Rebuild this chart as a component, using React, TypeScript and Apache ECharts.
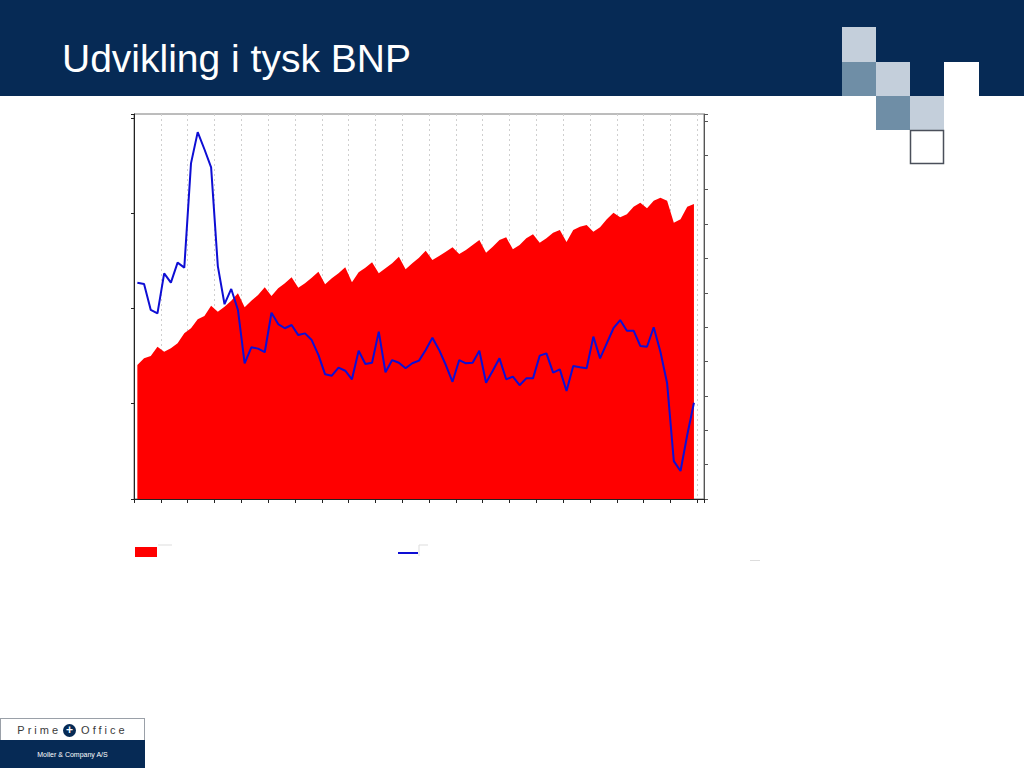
import React, { useEffect, useRef } from "react";
import * as echarts from "echarts";

// Quarterly GDP level (red area, right axis, arbitrary units)
const gdpLevel: number[] = [
  194.9, 204.7, 208.0, 221.5, 214.3, 219.2, 226.5, 241.0, 248.3, 261.4,
  266.2, 281.2, 272.4, 279.7, 288.4, 299.2, 278.8, 288.4, 296.7, 307.9,
  295.3, 306.5, 313.7, 322.5, 307.3, 313.7, 321.9, 330.6, 312.3, 321.0,
  328.3, 337.0, 315.2, 329.7, 336.4, 344.3, 328.3, 335.6, 342.8, 352.4,
  334.1, 342.8, 351.0, 361.2, 347.6, 353.5, 359.7, 366.1, 356.4, 362.2,
  369.5, 376.7, 358.3, 367.0, 376.7, 380.7, 363.2, 369.5, 379.2, 385.0,
  372.8, 379.2, 387.3, 391.3, 374.0, 391.3, 396.1, 398.5, 388.8, 395.2,
  406.8, 416.4, 409.7, 414.1, 425.2, 431.0, 422.8, 433.9, 438.2, 433.9,
  401.9, 406.8, 425.2, 429.1,
];

// Growth line (blue, left axis, arbitrary units)
const gdpGrowth: number[] = [
  11.35, 11.28, 9.92, 9.74, 11.84, 11.35, 12.4, 12.14, 17.61, 19.25,
  18.35, 17.4, 12.22, 10.22, 11.02, 9.92, 7.12, 7.96, 7.89, 7.7,
  9.77, 9.18, 8.96, 9.13, 8.6, 8.69, 8.34, 7.56, 6.54, 6.47,
  6.89, 6.73, 6.28, 7.78, 7.08, 7.15, 8.78, 6.65, 7.29, 7.15,
  6.86, 7.12, 7.26, 7.82, 8.46, 7.82, 7.03, 6.15, 7.29, 7.12,
  7.15, 7.78, 6.1, 6.73, 7.38, 6.28, 6.42, 5.97, 6.33, 6.33,
  7.52, 7.64, 6.63, 6.8, 5.67, 6.98, 6.91, 6.86, 8.52, 7.38,
  8.17, 8.96, 9.39, 8.83, 8.83, 8.03, 7.99, 9.01, 7.73, 6.07,
  1.99, 1.47, 3.36, 5.05,
];

const title = "Udvikling i tysk BNP";
const logoLeft = "Prime";
const logoRight = "Office";
const logoSub = "Moller & Company A/S";

const NAVY = "#062a55";
const LIGHT = "#c4cfdb";
const MID = "#6f8ea6";

export default function App() {
  const ref = useRef<HTMLDivElement>(null);

  useEffect(() => {
    if (!ref.current) return;
    const chart = echarts.init(ref.current, null, { renderer: "svg" });
    const levelData = gdpLevel.map((v, i) => [i + 0.5, v]);
    const growthData = gdpGrowth.map((v, i) => [i + 0.5, v]);

    chart.setOption({
      animation: false,
      backgroundColor: "#ffffff",
      grid: {
        left: 134,
        top: 114,
        width: 570,
        height: 385,
        show: true,
        borderColor: "#7a7a7a",
        borderWidth: 1,
        containLabel: false,
      },
      xAxis: {
        type: "value",
        min: 0,
        max: 85,
        interval: 4,
        axisLine: { show: true, onZero: false, lineStyle: { color: "#222", width: 1 } },
        axisTick: { show: true, length: 4, lineStyle: { color: "#222" } },
        axisLabel: { show: false },
        splitLine: { show: true, lineStyle: { color: "#cfcfcf", type: [2, 3], width: 1 } },
      },
      yAxis: [
        {
          type: "value",
          min: 0,
          max: 20.2,
          interval: 5,
          position: "left",
          axisLine: { show: true, onZero: false, lineStyle: { color: "#222", width: 1 } },
          axisTick: { show: true, length: 3, lineStyle: { color: "#222" } },
          axisLabel: { show: false },
          splitLine: { show: false },
        },
        {
          type: "value",
          min: 0,
          max: 560,
          interval: 50,
          position: "right",
          axisLine: { show: true, onZero: false, lineStyle: { color: "#555", width: 1 } },
          axisTick: { show: true, length: 4, lineStyle: { color: "#555" } },
          axisLabel: { show: false },
          splitLine: { show: false },
        },
      ],
      series: [
        {
          type: "line",
          yAxisIndex: 1,
          data: levelData,
          symbol: "none",
          lineStyle: { width: 0, color: "#ff0000" },
          areaStyle: { color: "#ff0000", opacity: 1 },
          z: 2,
        },
        {
          type: "line",
          yAxisIndex: 0,
          data: growthData,
          symbol: "none",
          lineStyle: { width: 2, color: "#0e0ed4" },
          z: 3,
        },
      ],
      graphic: [
        { type: "rect", shape: { x: 0, y: 0, width: 1024, height: 96 }, style: { fill: NAVY }, silent: true },
        {
          type: "text",
          x: 62,
          y: 58,
          style: {
            text: title,
            fill: "#ffffff",
            font: "39px 'Liberation Sans', Arial, sans-serif",
            verticalAlign: "middle",
          },
        },
        { type: "rect", shape: { x: 842, y: 27, width: 34, height: 35 }, style: { fill: LIGHT } },
        { type: "rect", shape: { x: 842, y: 62, width: 34, height: 34 }, style: { fill: MID } },
        { type: "rect", shape: { x: 876, y: 62, width: 34, height: 34 }, style: { fill: LIGHT } },
        { type: "rect", shape: { x: 944, y: 62, width: 35, height: 34 }, style: { fill: "#ffffff" } },
        { type: "rect", shape: { x: 876, y: 96, width: 34, height: 34 }, style: { fill: MID } },
        { type: "rect", shape: { x: 910, y: 96, width: 34, height: 34 }, style: { fill: LIGHT } },
        {
          type: "rect",
          shape: { x: 910.5, y: 130.5, width: 33, height: 33 },
          style: { fill: "#ffffff", stroke: "#4a4f5a", lineWidth: 1.5 },
        },
        // legend markers
        { type: "rect", shape: { x: 135, y: 547, width: 22, height: 10 }, style: { fill: "#ff0000" } },
        {
          type: "polyline",
          shape: { points: [[158, 545], [172, 545]] },
          style: { stroke: "#dddddd", lineWidth: 1, fill: "none" },
        },
        {
          type: "line",
          shape: { x1: 398, y1: 553, x2: 418, y2: 553 },
          style: { stroke: "#0e0ed4", lineWidth: 2 },
        },
        {
          type: "polyline",
          shape: { points: [[419, 556], [419, 545], [428, 545]] },
          style: { stroke: "#dddddd", lineWidth: 1, fill: "none" },
        },
        {
          type: "line",
          shape: { x1: 750, y1: 560.5, x2: 760, y2: 560.5 },
          style: { stroke: "#dddddd", lineWidth: 1 },
        },
      ],
    });
    return () => chart.dispose();
  }, []);

  return (
    <div style={{ position: "fixed", left: 0, top: 0, width: 1024, height: 768, background: "#fff", overflow: "hidden" }}>
      <div ref={ref} style={{ position: "absolute", left: 0, top: 0, width: 1024, height: 768 }} />
      <div
        style={{
          position: "absolute",
          left: 0,
          top: 718,
          width: 145,
          height: 50,
          border: "1px solid #9aa0a8",
          boxSizing: "border-box",
          background: "#fff",
          fontFamily: "'Liberation Sans', Arial, sans-serif",
        }}
      >
        <div
          style={{
            position: "absolute",
            left: 0,
            top: 0,
            width: 143,
            height: 22,
            display: "flex",
            alignItems: "center",
            justifyContent: "center",
            color: "#3a3a3a",
            fontSize: 11,
            letterSpacing: 3,
          }}
        >
          <span>{logoLeft}</span>
          <span
            style={{
              display: "inline-block",
              width: 13,
              height: 13,
              borderRadius: "50%",
              background: NAVY,
              color: "#fff",
              fontSize: 12,
              lineHeight: "13px",
              textAlign: "center",
              letterSpacing: 0,
              margin: "0 5px 0 2px",
              fontWeight: "bold",
            }}
          >
            +
          </span>
          <span>{logoRight}</span>
        </div>
        <div
          style={{
            position: "absolute",
            left: -1,
            top: 21,
            width: 145,
            height: 28,
            background: NAVY,
            color: "#fff",
            fontSize: 7,
            display: "flex",
            alignItems: "center",
            justifyContent: "center",
          }}
        >
          {logoSub}
        </div>
      </div>
    </div>
  );
}
